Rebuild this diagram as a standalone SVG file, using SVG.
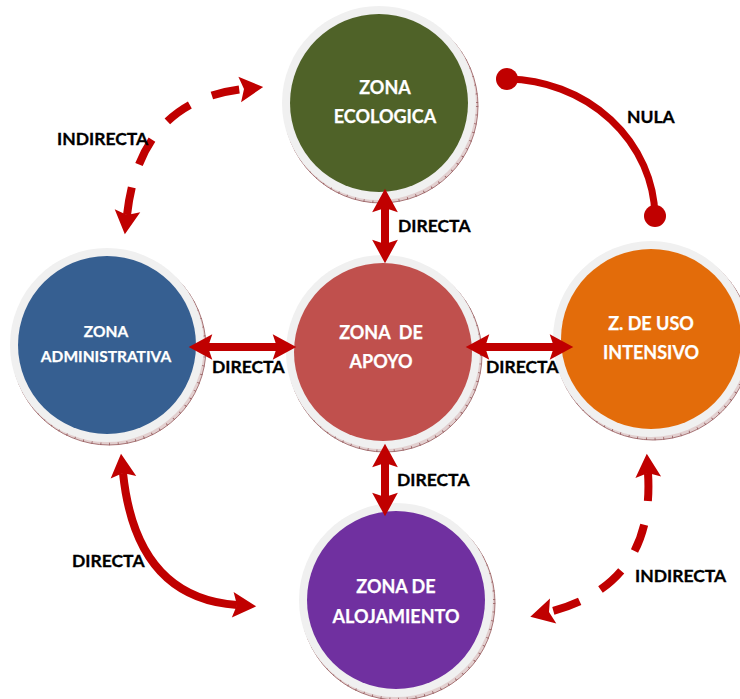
<svg xmlns="http://www.w3.org/2000/svg" width="740" height="699" viewBox="0 0 740 699">
<style>
.bg{fill:#ffffff}
.shadow{fill:#e2cfcf;stroke:#94585a;stroke-width:0.8}
.tick{fill:none;stroke:#94585a;stroke-width:2.5;stroke-dasharray:0.8 8}
.ring{fill:#f0f0f0}
.nt{font-family:"Lato","Carlito","Liberation Sans",sans-serif;font-weight:bold;fill:#ffffff;text-anchor:middle;stroke:#ffffff;stroke-width:0.25}
.lbl{font-family:"Lato","Carlito","Liberation Sans",sans-serif;font-weight:bold;font-size:17.5px;fill:#000000;stroke:#000000;stroke-width:0.3}
.solid{fill:none;stroke:#c00000;stroke-width:8;marker-start:url(#head);marker-end:url(#head)}
.dash{fill:none;stroke:#c00000;stroke-width:8;stroke-dasharray:28 24;marker-start:url(#head);marker-end:url(#head)}
.nula{fill:none;stroke:#c00000;stroke-width:7}
.dot{fill:#c00000}
</style>
<defs>
<marker id="head" markerUnits="userSpaceOnUse" markerWidth="30" markerHeight="30" viewBox="-6 -14 28 28" refX="0" refY="0" orient="auto-start-reverse" overflow="visible">
<path d="M18,0 L-4,-12 L0,0 L-4,12 Z" fill="#c00000"/>
</marker>
</defs>
<rect class="bg" x="0" y="0" width="740" height="699"/>

<g id="zona-ecologica">
<circle class="shadow" cx="381" cy="106" r="97"/>
<circle class="tick" cx="381" cy="106" r="96"/>
<circle class="ring" cx="379" cy="103" r="97"/>
<circle cx="379" cy="103" r="89" fill="#4f6228"/>
<text class="nt" font-size="18" x="385" y="94">ZONA</text>
<text class="nt" font-size="18" x="385" y="123">ECOLOGICA</text>
</g>

<g id="zona-administrativa">
<circle class="shadow" cx="109" cy="348" r="97"/>
<circle class="tick" cx="109" cy="348" r="96"/>
<circle class="ring" cx="107" cy="345" r="97"/>
<circle cx="107" cy="345" r="89" fill="#365f91"/>
<text class="nt" font-size="15.5" x="106" y="337">ZONA</text>
<text class="nt" font-size="15.5" x="106" y="362">ADMINISTRATIVA</text>
</g>

<g id="zona-apoyo">
<circle class="shadow" cx="385" cy="355" r="97"/>
<circle class="tick" cx="385" cy="355" r="96"/>
<circle class="ring" cx="383" cy="352" r="97"/>
<circle cx="383" cy="352" r="89" fill="#c0504d"/>
<text class="nt" font-size="18" x="381" y="339" xml:space="preserve">ZONA  DE</text>
<text class="nt" font-size="18" x="381" y="368">APOYO</text>
</g>

<g id="zona-uso-intensivo">
<circle class="shadow" cx="653" cy="342" r="98"/>
<circle class="tick" cx="653" cy="342" r="97"/>
<circle class="ring" cx="651" cy="339" r="98"/>
<circle cx="651" cy="339" r="90" fill="#e36c0a"/>
<text class="nt" font-size="18" x="651" y="330">Z. DE USO</text>
<text class="nt" font-size="18" x="651" y="359">INTENSIVO</text>
</g>

<g id="zona-alojamiento">
<circle class="shadow" cx="398" cy="603" r="97"/>
<circle class="tick" cx="398" cy="603" r="96"/>
<circle class="ring" cx="396" cy="600" r="97"/>
<circle cx="396" cy="600" r="89" fill="#7030a0"/>
<text class="nt" font-size="18" x="396" y="593">ZONA DE</text>
<text class="nt" font-size="18" x="396" y="623">ALOJAMIENTO</text>
</g>

<g id="connectors">
<path class="solid" d="M208,347 L277,347"/>
<path class="solid" d="M485,347 L554,347"/>
<path class="solid" d="M385,208 L385,244"/>
<path class="solid" d="M385,463 L385,497"/>
<path class="solid" d="M123,473 Q136,598 237,605"/>
<path class="dash" d="M127,215 Q140,100 244,89"/>
<path class="dash" d="M648,473 Q655,585 549,612"/>
<path class="nula" d="M507,79 A150,140 0 0 1 655,216"/>
<circle class="dot" cx="507" cy="79" r="11"/>
<circle class="dot" cx="655" cy="216" r="11"/>
</g>

<g id="labels">
<text class="lbl" x="398" y="232">DIRECTA</text>
<text class="lbl" x="212" y="373">DIRECTA</text>
<text class="lbl" x="486" y="373">DIRECTA</text>
<text class="lbl" x="397" y="486">DIRECTA</text>
<text class="lbl" x="72" y="567">DIRECTA</text>
<text class="lbl" x="57" y="145">INDIRECTA</text>
<text class="lbl" x="635" y="582">INDIRECTA</text>
<text class="lbl" x="627" y="123">NULA</text>
</g>
</svg>
